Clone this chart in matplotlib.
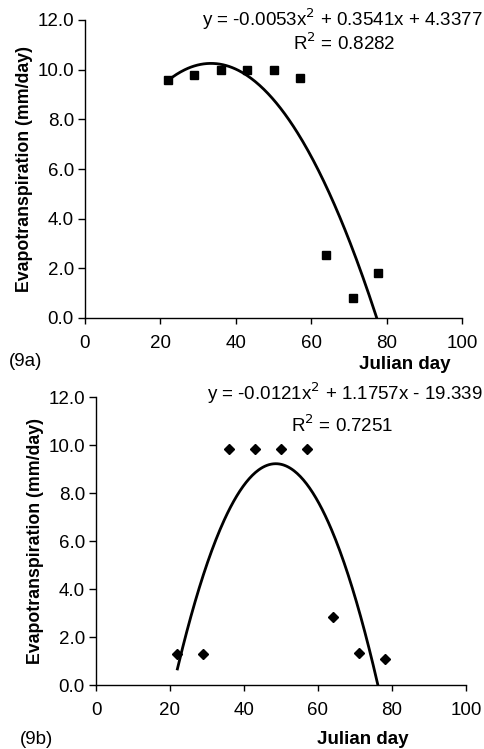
import numpy as np
import matplotlib
matplotlib.use("Agg")
import matplotlib.pyplot as plt

plt.rcParams["font.family"] = ["Liberation Sans", "DejaVu Sans"]

# (9a) measured ET and its quadratic trend
day_a = [22, 29, 36, 43, 50, 57, 64, 71, 77.6]
et_a = [9.6, 9.8, 10.0, 10.0, 10.0, 9.68, 2.53, 0.79, 1.81]
coef_a = [-0.0053, 0.3541, 4.3377]
eq_a = "y = -0.0053x$^2$ + 0.3541x + 4.3377"
r2_a = "R$^2$ = 0.8282"

# (9b)
day_b = [22, 29, 36, 43, 50, 57, 64, 71, 78]
et_b = [1.29, 1.29, 9.83, 9.83, 9.83, 9.83, 2.85, 1.35, 1.08]
coef_b = [-0.0121, 1.1757, -19.339]
eq_b = "y = -0.0121x$^2$ + 1.1757x - 19.339"
r2_b = "R$^2$ = 0.7251"

xticks = [0, 20, 40, 60, 80, 100]
yticks = [0, 2, 4, 6, 8, 10, 12]

fig = plt.figure(figsize=(4.84, 7.49), dpi=100)
FS = 13.5


def panel(rect, day, et, coef, marker, ms, eq, r2, tag, eq_xy, r2_xy, tag_xy, jd_xy):
    ax = fig.add_axes(rect)
    xs = np.linspace(min(day), max(day), 200)
    ax.plot(xs, np.polyval(coef, xs), color="black", lw=2.0, zorder=2)
    ax.plot(day, et, ls="none", marker=marker, ms=ms, color="black", zorder=3)
    ax.set_xlim(0, 100)
    ax.set_ylim(0, 12)
    ax.set_xticks(xticks)
    ax.set_xticklabels([str(t) for t in xticks])
    ax.set_yticks(yticks)
    ax.set_yticklabels([f"{t:.1f}" for t in yticks])
    for s in ("top", "right"):
        ax.spines[s].set_visible(False)
    for s in ("left", "bottom"):
        ax.spines[s].set_linewidth(1.0)
    ax.tick_params(axis="y", direction="out", length=5, width=1, labelsize=FS, pad=3)
    ax.tick_params(axis="x", direction="out", length=4, width=1, labelsize=FS, pad=8)
    ax.set_ylabel("Evapotranspiration (mm/day)", fontsize=12.8, fontweight="bold", labelpad=3)
    fig.text(*eq_xy, eq, fontsize=FS, ha="right", va="center")
    fig.text(*r2_xy, r2, fontsize=FS, ha="center", va="center")
    fig.text(*tag_xy, tag, fontsize=FS, ha="left", va="center")
    fig.text(*jd_xy, "Julian day", fontsize=13.5, fontweight="bold", ha="center", va="center")
    return ax


W, H = 484, 749
panel([85 / W, 1 - 318 / H, 377 / W, 298 / H], day_a, et_a, coef_a, "s", 5.5, eq_a, r2_a, "(9a)",
      (483 / W, 1 - 19 / H), (344 / W, 1 - 43 / H), (9 / W, 1 - 362 / H), (405 / W, 1 - 364 / H))
panel([96 / W, 1 - 685 / H, 370 / W, 288 / H], day_b, et_b, coef_b, "D", 5, eq_b, r2_b, "(9b)",
      (483 / W, 1 - 393 / H), (342 / W, 1 - 425 / H), (20 / W, 1 - 739 / H), (363 / W, 1 - 740 / H))

fig.savefig("out.png", dpi=100)
